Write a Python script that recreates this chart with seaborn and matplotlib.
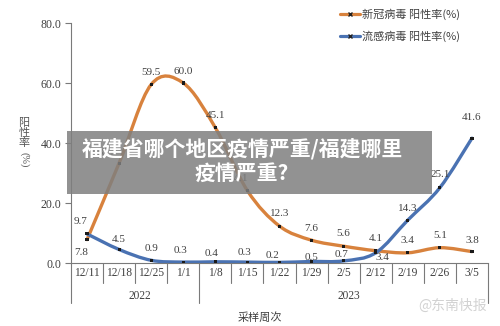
import numpy as np
import pandas as pd
import matplotlib
matplotlib.use("Agg")
import matplotlib.pyplot as plt
import seaborn as sns
from matplotlib.path import Path
from matplotlib.patches import PathPatch, Rectangle
from matplotlib.lines import Line2D
import matplotlib.transforms as mtransforms

# ---------------- data ----------------
weeks = ["12/11", "12/18", "12/25", "1/1", "1/8", "1/15", "1/22", "1/29",
         "2/5", "2/12", "2/19", "2/26", "3/5"]
covid = [7.8, 33.3, 59.5, 60.0, 45.1, 24.1, 12.3, 7.6, 5.6, 4.1, 3.4, 5.1, 3.8]
flu = [9.7, 4.5, 0.9, 0.3, 0.4, 0.3, 0.2, 0.5, 0.7, 3.4, 14.3, 25.1, 41.6]
years = ["2022", "2023"]
year_span = [(0, 3), (4, 12)]
y_ticks = [0, 20, 40, 60, 80]
series_names = ["新冠病毒 阳性率(%)", "流感病毒 阳性率(%)"]
x_title = "采样周次"
y_title_chars = "阳\n性\n率"
y_title_unit = "(%)"
banner_lines = "福建省哪个地区疫情严重/福建哪里\n疫情严重?"
watermark = "@东南快报"

# label offsets in pixels (style only)
covid_off = [(-6, -13), (-12, 11), (0, 12), (0, 12), (0, 12), (-9, 12), (0, 13),
             (0, 12), (0, 13), (0, 12), (0, 12), (0, 12), (0, 11)]
flu_off = [(-6, 12), (0, 10), (0, 12), (-3, 12), (-4, 8), (-3, 10), (-7, 7),
           (0, 4), (-2, 6), (7, -5), (0, 12), (0, 13), (0, 21)]

ORANGE = "#D8823D"
BLUE = "#4A72B2"
TXT = "#404040"
AXC = "#7a7a7a"

sns.set_theme(style="white")
plt.rcParams['font.family'] = ['Liberation Serif', 'Noto Sans CJK SC']

fig = plt.figure(figsize=(5.0, 3.26), dpi=100)
W, H = 500, 326
ax = fig.add_axes([71 / W, 1 - 263 / H, 417 / W, 240 / H])

df = pd.DataFrame({"x": np.arange(len(weeks)), "covid": covid, "flu": flu})


def smooth_path(xs, ys):
    xs = np.asarray(xs, float)
    ys = np.asarray(ys, float)
    n = len(xs)
    verts = [(xs[0], ys[0])]
    codes = [Path.MOVETO]
    for i in range(n - 1):
        p0 = np.array([xs[max(i - 1, 0)], ys[max(i - 1, 0)]])
        p1 = np.array([xs[i], ys[i]])
        p2 = np.array([xs[i + 1], ys[i + 1]])
        p3 = np.array([xs[min(i + 2, n - 1)], ys[min(i + 2, n - 1)]])
        c1 = p1 + (p2 - p0) / 6.0
        c2 = p2 - (p3 - p1) / 6.0
        verts += [tuple(c1), tuple(c2), tuple(p2)]
        codes += [Path.CURVE4] * 3
    return Path(verts, codes)


for col, color in [("covid", ORANGE), ("flu", BLUE)]:
    ax.add_patch(PathPatch(smooth_path(df["x"], df[col]), facecolor="none",
                           edgecolor=color, lw=2.4, capstyle="round", zorder=3))
    sns.scatterplot(data=df, x="x", y=col, ax=ax, marker="s", s=5, color="#1a1a1a",
                    edgecolor="none", zorder=4, legend=False)

for xs, vals, offs in [(df["x"], covid, covid_off), (df["x"], flu, flu_off)]:
    for xi, v, (dx, dy) in zip(xs, vals, offs):
        ax.annotate(f"{v:.1f}", (xi, v), xytext=(dx, dy), textcoords="offset pixels",
                    ha="center", va="center", fontsize=8, color=TXT,
                    family="Liberation Serif", zorder=5)

ax.set_xlim(-0.5, len(weeks) - 0.5)
ax.set_ylim(0, 80)
ax.set_yticks(y_ticks)
ax.set_yticklabels([f"{t:.1f}" for t in y_ticks], fontsize=8.5, color=TXT)
ax.tick_params(axis="y", length=4, width=0.8, color=AXC, pad=3, left=True)
ax.set_xticks([])
ax.set_xlabel("")
ax.set_ylabel("")
for s in ["top", "right"]:
    ax.spines[s].set_visible(False)
for s in ["left", "bottom"]:
    ax.spines[s].set_color(AXC)
    ax.spines[s].set_linewidth(0.8)

trans = mtransforms.blended_transform_factory(ax.transData, ax.transAxes)
row1 = -20 / 240
row2 = -40 / 240
# category separators
long_bounds = {-0.5, year_span[0][1] + 0.5, len(weeks) - 0.5}
for b in np.arange(-0.5, len(weeks), 1.0):
    y_end = row2 if b in long_bounds else row1
    ax.add_line(Line2D([b, b], [0, y_end], transform=trans, color=AXC, lw=0.8,
                       clip_on=False))
for i, w in enumerate(weeks):
    ax.text(i, -10 / 240, w, transform=trans, ha="center", va="center",
            fontsize=8.3, color=TXT)
for yr, (a, b) in zip(years, year_span):
    ax.text((a + b) / 2 + 0.15, -33 / 240, yr, transform=trans, ha="center",
            va="center", fontsize=8.3, color=TXT)

fig.text(260 / W, 1 - 318 / H, x_title, ha="center", va="center", fontsize=8,
         color=TXT, family=["Noto Sans CJK SC"])
fig.text(24 / W, 1 - 133 / H, y_title_chars, ha="center", va="center", fontsize=8,
         color="#555555", family=["Noto Sans CJK SC"], linespacing=1.05)
fig.text(24 / W, 1 - 160 / H, y_title_unit, ha="center", va="center", fontsize=7.5,
         color="#555555", rotation=270)

handles = [Line2D([], [], color=ORANGE, lw=2.3, marker="x", markersize=2.5,
                  markeredgecolor="#222222"),
           Line2D([], [], color=BLUE, lw=2.3, marker="x", markersize=2.5,
                  markeredgecolor="#222222")]
leg = fig.legend(handles, series_names, loc="upper left",
                 bbox_to_anchor=(340 / W, 1 - 9 / H), frameon=False, fontsize=8,
                 handlelength=1.8, handletextpad=0.2, labelspacing=0.95,
                 borderpad=0, borderaxespad=0, markerfirst=True)
for t in leg.get_texts():
    t.set_color(TXT)
    t.set_family(["Noto Sans CJK SC"])

# overlay banner
fig.patches.append(Rectangle((67 / W, 1 - 194 / H), 365 / W, 63 / H,
                             transform=fig.transFigure, facecolor="#7f7f7f",
                             alpha=0.85, edgecolor="none", zorder=10))
fig.text(242 / W, 1 - 161 / H, banner_lines, ha="center", va="center",
         fontsize=15, fontweight="heavy", color="white", linespacing=1.2,
         family=["Noto Sans CJK SC"], zorder=11)
fig.text(487 / W, 1 - 306 / H, watermark, ha="right", va="center", fontsize=10,
         color="#d2d2d2", family=["Noto Sans CJK SC"], zorder=11)

fig.savefig("out.png", dpi=100, facecolor="white")
